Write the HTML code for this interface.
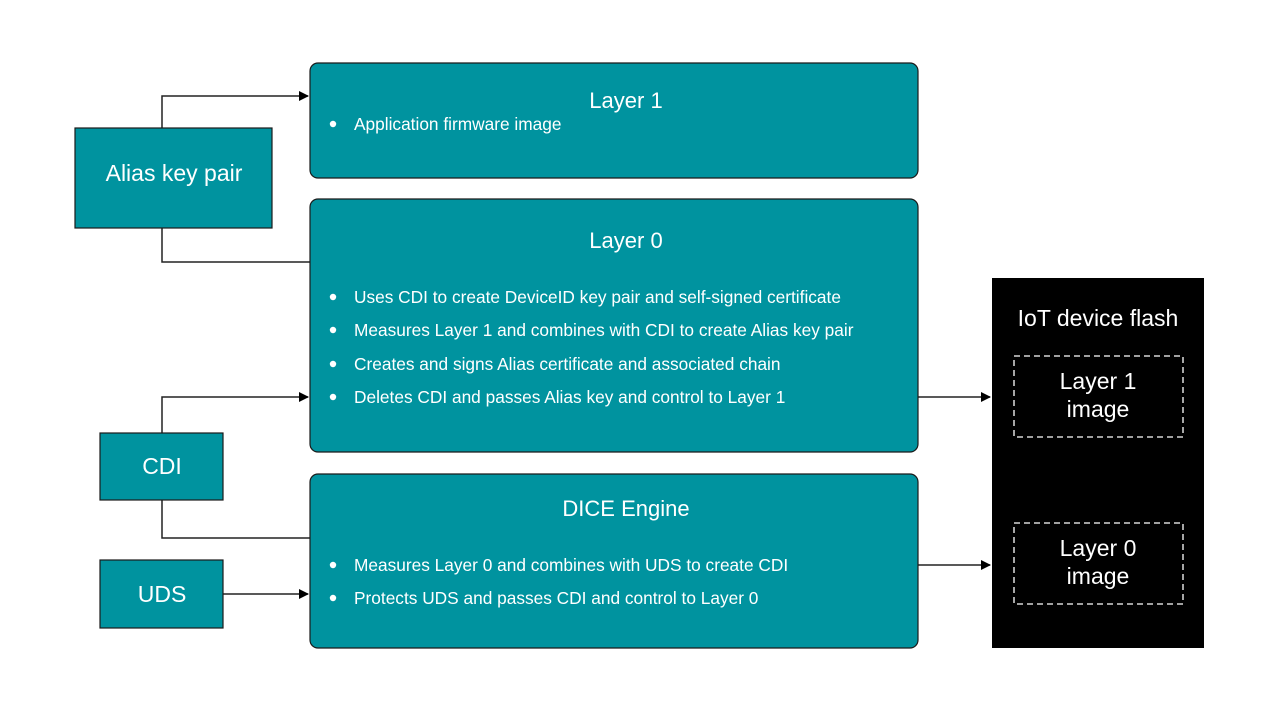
<!DOCTYPE html>
<html><head><meta charset="utf-8"><style>
html,body{margin:0;padding:0;background:#fff;}
svg{display:block;font-family:"Liberation Sans",Arial,sans-serif;}
</style></head><body>
<svg width="1280" height="720" viewBox="0 0 1280 720" xmlns="http://www.w3.org/2000/svg">
<defs><marker id="a" markerWidth="10" markerHeight="10" refX="9" refY="5" orient="auto" markerUnits="userSpaceOnUse"><path d="M0,0 L10,5 L0,10 z" fill="#000"/></marker></defs>
<g fill="none" stroke="#222" stroke-width="1.5">
<path d="M162,128 V96 H308" marker-end="url(#a)"/>
<path d="M162,228 V262 H310"/>
<path d="M162,433 V397 H308" marker-end="url(#a)"/>
<path d="M162,500 V538 H310"/>
<path d="M223,594 H308" marker-end="url(#a)"/>
<path d="M918,397 H990" marker-end="url(#a)"/>
<path d="M918,565 H990" marker-end="url(#a)"/>
</g>
<g fill="#00939f" stroke="#1a1a1a" stroke-width="1.2">
<rect x="310" y="63" width="608" height="115" rx="8"/>
<rect x="310" y="199" width="608" height="253" rx="8"/>
<rect x="310" y="474" width="608" height="174" rx="8"/>
<rect x="75" y="128" width="197" height="100"/>
<rect x="100" y="433" width="123" height="67"/>
<rect x="100" y="560" width="123" height="68"/>
</g>
<rect x="992" y="278" width="212" height="370" fill="#000"/>
<g fill="none" stroke="#fff" stroke-width="1.3" stroke-dasharray="6,4">
<rect x="1014" y="356" width="169" height="81"/>
<rect x="1014" y="523" width="169" height="81"/>
</g>
<g fill="#fff" text-anchor="middle" font-size="22">
<text x="626" y="108">Layer 1</text>
<text x="626" y="248">Layer 0</text>
<text x="626" y="516">DICE Engine</text>
</g>
<g fill="#fff" text-anchor="middle" font-size="23">
<text x="174" y="181">Alias key pair</text>
<text x="162" y="474">CDI</text>
<text x="162" y="602">UDS</text>
<text x="1098" y="326">IoT device flash</text>
<text x="1098" y="389">Layer 1</text>
<text x="1098" y="417">image</text>
<text x="1098" y="556">Layer 0</text>
<text x="1098" y="584">image</text>
</g>
<g fill="#fff">
<circle cx="333" cy="124" r="3.2"/><circle cx="333" cy="297" r="3.2"/><circle cx="333" cy="330" r="3.2"/><circle cx="333" cy="364" r="3.2"/><circle cx="333" cy="397" r="3.2"/><circle cx="333" cy="565" r="3.2"/><circle cx="333" cy="598" r="3.2"/>
</g>
<g fill="#fff" font-size="17.3">
<text x="354" y="130">Application firmware image</text>
<text x="354" y="303">Uses CDI to create DeviceID key pair and self-signed certificate</text>
<text x="354" y="336">Measures Layer 1 and combines with CDI to create Alias key pair</text>
<text x="354" y="370">Creates and signs Alias certificate and associated chain</text>
<text x="354" y="403">Deletes CDI and passes Alias key and control to Layer 1</text>
<text x="354" y="571">Measures Layer 0 and combines with UDS to create CDI</text>
<text x="354" y="604">Protects UDS and passes CDI and control to Layer 0</text>
</g>
</svg>
</body></html>
